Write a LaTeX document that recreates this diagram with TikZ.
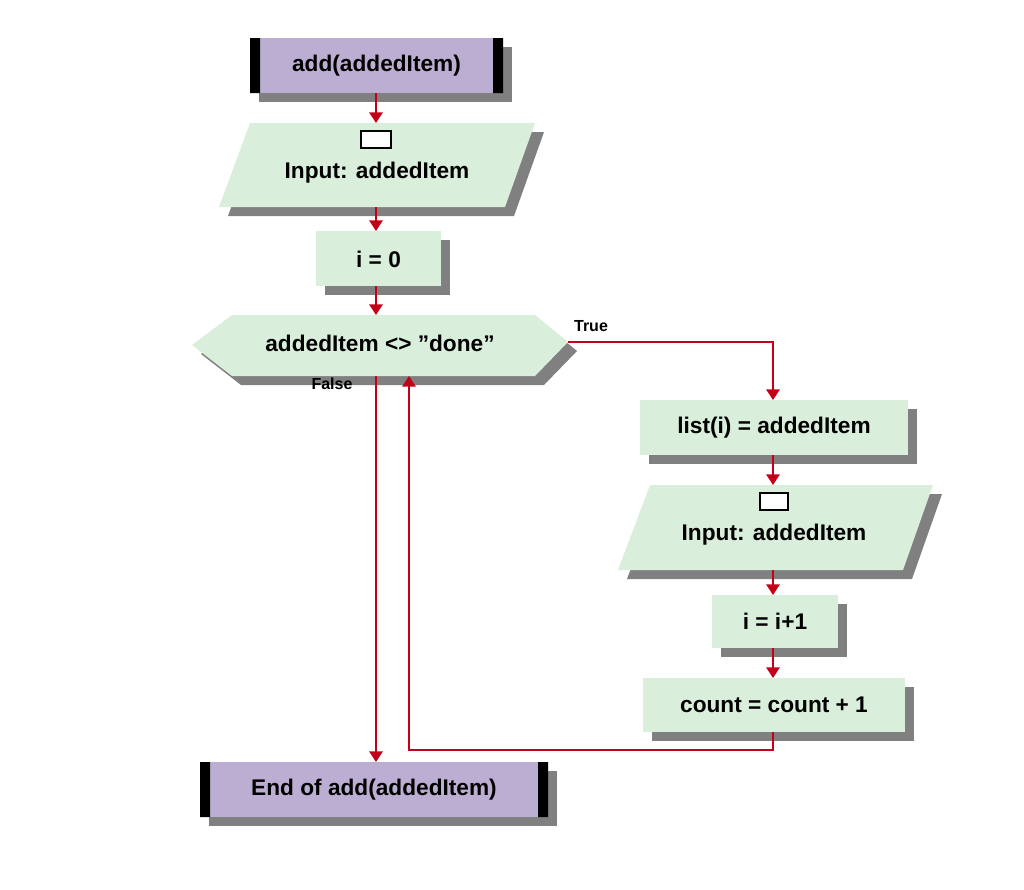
\documentclass[tikz,border=0pt]{standalone}
\usepackage{fontspec}
\setmainfont{Liberation Sans}
\usetikzlibrary{arrows.meta}
\definecolor{lil}{HTML}{BCAED2}
\definecolor{grn}{HTML}{DAEEDC}
\definecolor{shd}{HTML}{808080}
\definecolor{rd}{HTML}{C40018}
\tikzset{
  txt/.style={font=\fontsize{17}{20}\selectfont\bfseries, inner sep=0pt},
  lbl/.style={font=\fontsize{12}{14}\selectfont\bfseries, inner sep=0pt},
  conn/.style={rd, line width=1.6pt, -{Triangle[length=8pt,width=10pt]}},
  plain/.style={rd, line width=1.6pt},
}
\newcommand{\rbox}[5]{% x1 y1 x2 y2 fill
  \fill[shd] (#1+9,#2+9) rectangle (#3+9,#4+9);
  \fill[#5] (#1,#2) rectangle (#3,#4);}
\begin{document}
\begin{tikzpicture}[x=0.75pt,y=-0.75pt]
\useasboundingbox (0,0) rectangle (1024,889);
% top terminator
\rbox{250}{38}{503}{93}{lil}
\fill[black] (250,38) rectangle (260,93) (493,38) rectangle (503,93);
\node[txt] (start) at (376.5,66) {add(addedItem)};
\coordinate (startB) at (376,93);
% input 1
\fill[shd] (259,132) -- (544,132) -- (514,216) -- (228,216) -- cycle;
\fill[grn] (250,123) -- (535,123) -- (505,207) -- (219,207) -- cycle;
\draw[black, line width=2pt, fill=white] (361,131) rectangle (391,148);
\node[txt] (in1) at (377,173) {Input: addedItem};
\coordinate (in1T) at (376,123); \coordinate (in1B) at (376,207);
% i = 0
\rbox{316}{231}{441}{286}{grn}
\node[txt] (i0) at (378.5,259) {i = 0};
\coordinate (i0T) at (376,231); \coordinate (i0B) at (376,286);
% hexagon
\fill[shd] (201,354) -- (241,324) -- (544,324) -- (577,351) -- (544,385) -- (241,385) -- cycle;
\fill[grn] (192,345) -- (232,315) -- (535,315) -- (568,342) -- (535,376) -- (232,376) -- cycle;
\node[txt] (dec) at (380,343) {addedItem <> "done"};
\coordinate (decR) at (568,342); \coordinate (decT) at (376,315);
\coordinate (decF) at (376,376); \coordinate (decIn) at (409,376);
\node[lbl] (tl) at (591,326) {True};
\node[lbl] (fl) at (332,384) {False};
% list(i)
\rbox{640}{400}{908}{455}{grn}
\node[txt] (list) at (774,428) {list(i) = addedItem};
\coordinate (listT) at (773,400); \coordinate (listB) at (773,455);
% input 2
\fill[shd] (659,494) -- (942,494) -- (912,579) -- (627,579) -- cycle;
\fill[grn] (650,485) -- (933,485) -- (903,570) -- (618,570) -- cycle;
\draw[black, line width=2pt, fill=white] (760,493) rectangle (788,510);
\node[txt] (in2) at (774,535) {Input: addedItem};
\coordinate (in2T) at (773,485); \coordinate (in2B) at (773,570);
% i = i+1
\rbox{712}{595}{838}{648}{grn}
\node[txt] (inc) at (775,621) {i = i+1};
\coordinate (incT) at (773,595); \coordinate (incB) at (773,648);
% count
\rbox{643}{678}{905}{732}{grn}
\node[txt] (cnt) at (774,705) {count = count + 1};
\coordinate (cntT) at (773,678); \coordinate (cntB) at (773,732);
% end
\rbox{200}{762}{548}{817}{lil}
\fill[black] (200,762) rectangle (210,817) (538,762) rectangle (548,817);
\node[txt] (endn) at (374,790) {End of add(addedItem)};
\coordinate (endT) at (376,762);
% connectors
\draw[conn] (startB) -- (in1T);
\draw[conn] (in1B) -- (i0T);
\draw[conn] (i0B) -- (decT);
\draw[conn] (decR) -| (listT);
\draw[conn] (listB) -- (in2T);
\draw[conn] (in2B) -- (incT);
\draw[conn] (incB) -- (cntT);
\draw[conn] (decF) -- (endT);
\draw[conn] (cntB) -- (773,750) -| (decIn);
\end{tikzpicture}
\end{document}
